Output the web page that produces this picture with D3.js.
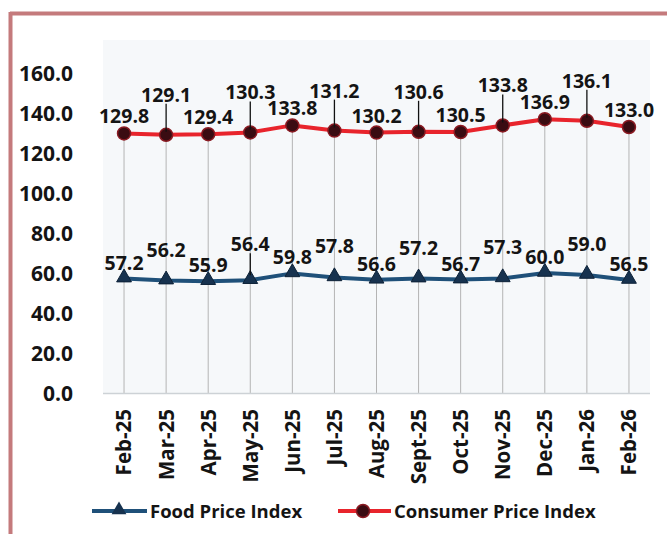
<!DOCTYPE html>
<html><head><meta charset="utf-8">
<script src="https://cdn.jsdelivr.net/npm/d3@7"></script>
<style>
html,body{margin:0;padding:0;background:#fff;}
svg{display:block;}
text{font-family:"Open Sans",Lato,sans-serif;font-weight:700;fill:#141414;}
</style></head>
<body>
<script>
const months = ["Feb-25","Mar-25","Apr-25","May-25","Jun-25","Jul-25","Aug-25","Sept-25","Oct-25","Nov-25","Dec-25","Jan-26","Feb-26"];
const foodIndex = [57.2,56.2,55.9,56.4,59.8,57.8,56.6,57.2,56.7,57.3,60.0,59.0,56.5];
const cpiIndex = [129.8,129.1,129.4,130.3,133.8,131.2,130.2,130.6,130.5,133.8,136.9,136.1,133.0];
const yTicks = [0,20,40,60,80,100,120,140,160];
const seriesNames = ["Food Price Index","Consumer Price Index"];

const W = 667, H = 534;
const svg = d3.select("body").append("svg").attr("width", W).attr("height", H);

// frame
svg.append("line").attr("x1",10).attr("x2",W).attr("y1",13.5).attr("y2",13.5)
  .attr("stroke","#c47a7c").attr("stroke-width",4);
svg.append("line").attr("x1",10.5).attr("x2",10.5).attr("y1",12).attr("y2",H)
  .attr("stroke","#c47a7c").attr("stroke-width",4);

const plot = {left:103, right:650, top:40, bottom:393};
const x = d3.scaleBand().domain(months).range([plot.left, plot.right]);
const y = d3.scaleLinear().domain([0,160]).range([plot.bottom, plot.bottom - 320]);
const cx = d => x(d) + x.bandwidth()/2;

// plot area background
svg.append("rect").attr("x",plot.left).attr("y",plot.top)
  .attr("width",plot.right-plot.left).attr("height",plot.bottom-plot.top)
  .attr("fill","#f6f8fa");

// drop lines
svg.append("g").selectAll("line").data(months).join("line")
  .attr("x1",d=>cx(d)).attr("x2",d=>cx(d))
  .attr("y1",(d,i)=>y(cpiIndex[i])).attr("y2",plot.bottom)
  .attr("stroke","#b4b4b4").attr("stroke-width",1);

// x axis line
svg.append("line").attr("x1",plot.left).attr("x2",plot.right)
  .attr("y1",plot.bottom+0.5).attr("y2",plot.bottom+0.5)
  .attr("stroke","#cdd2d6").attr("stroke-width",1.5);

// y axis labels
const yAxis = d3.axisLeft(y).tickValues(yTicks).tickFormat(d3.format(".1f")).tickSize(0).tickPadding(0);
const gy = svg.append("g").attr("transform","translate(73,0)").call(yAxis);
gy.select(".domain").remove();
gy.selectAll("text").style("font-size","21px").attr("font-family",null).attr("fill","#141414").attr("dy","0.36em");

// x axis labels
const xAxis = d3.axisBottom(x).tickSize(0).tickPadding(0);
const gx = svg.append("g").attr("transform",`translate(0,${plot.bottom})`).call(xAxis);
gx.select(".domain").remove();
gx.selectAll("text").style("font-size","20.5px").attr("font-family",null).attr("fill","#141414")
  .attr("transform","rotate(-90)").attr("text-anchor","end")
  .attr("x",-16).attr("y",0).attr("dy","0.36em");

// lines
const line = (vals) => d3.line().x((d,i)=>cx(months[i])).y(d=>y(d))(vals);
svg.append("path").attr("d",line(cpiIndex)).attr("fill","none")
  .attr("stroke","#e8242c").attr("stroke-width",4).attr("stroke-linejoin","round");
svg.append("path").attr("d",line(foodIndex)).attr("fill","none")
  .attr("stroke","#1f5079").attr("stroke-width",4).attr("stroke-linejoin","round");

// markers
const tri = d3.symbol().type(d3.symbolTriangle).size(95);
svg.append("g").selectAll("path").data(foodIndex).join("path")
  .attr("d",tri).attr("transform",(d,i)=>`translate(${cx(months[i])},${y(d)-1})`)
  .attr("fill","#17324f").attr("stroke","#0e2238").attr("stroke-width",1);
svg.append("g").selectAll("circle").data(cpiIndex).join("circle")
  .attr("cx",(d,i)=>cx(months[i])).attr("cy",d=>y(d)).attr("r",6.5)
  .attr("fill","#3a0c12").attr("stroke","#8a1a22").attr("stroke-width",1.5);

// CPI labels
const cpiLift = i => (i % 2 === 1) ? 40 : 17;
const gl = svg.append("g");
cpiIndex.forEach((v,i)=>{
  const px = cx(months[i]), py = y(v);
  const ly = py - cpiLift(i);
  if (i % 2 === 1) {
    gl.append("line").attr("x1",px).attr("x2",px).attr("y1",ly+9).attr("y2",py-3)
      .attr("stroke","#111").attr("stroke-width",1.3);
  }
  gl.append("text").attr("x",px).attr("y",ly).attr("dy","0.36em")
    .attr("text-anchor","middle").style("font-size","19.5px").text(d3.format(".1f")(v));
});
// Food labels
const foodLift = i => (i === 3) ? 36 : (i % 2 === 1 ? 31 : 16);
foodIndex.forEach((v,i)=>{
  const px = cx(months[i]), py = y(v);
  const ly = py - foodLift(i);
  if (i === 3) {
    gl.append("line").attr("x1",px).attr("x2",px).attr("y1",ly+9).attr("y2",py-5)
      .attr("stroke","#111").attr("stroke-width",1.3);
  }
  gl.append("text").attr("x",px).attr("y",ly).attr("dy","0.36em")
    .attr("text-anchor","middle").style("font-size","19.5px").text(d3.format(".1f")(v));
});

// legend
const lg = svg.append("g");
const legY = 511;
lg.append("line").attr("x1",92).attr("x2",147).attr("y1",legY).attr("y2",legY)
  .attr("stroke","#1f5079").attr("stroke-width",4);
lg.append("path").attr("d",tri).attr("transform",`translate(119,${legY-1})`).attr("fill","#17324f");
lg.append("text").attr("x",150).attr("y",legY).attr("dy","0.36em").style("font-size","18.5px").text(seriesNames[0]);
lg.append("line").attr("x1",338).attr("x2",391).attr("y1",legY).attr("y2",legY)
  .attr("stroke","#e8242c").attr("stroke-width",4);
lg.append("circle").attr("cx",363).attr("cy",legY).attr("r",6.5).attr("fill","#3a0c12").attr("stroke","#8a1a22").attr("stroke-width",1.5);
lg.append("text").attr("x",394).attr("y",legY).attr("dy","0.36em").style("font-size","18.5px").text(seriesNames[1]);
</script>
</body></html>
